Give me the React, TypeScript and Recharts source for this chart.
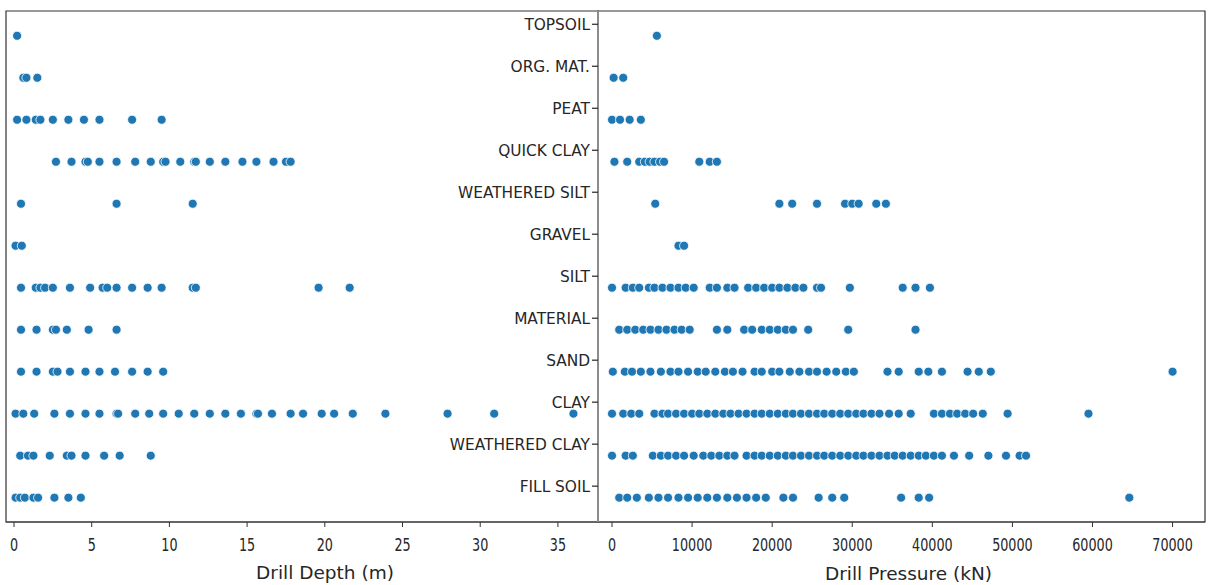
import { ScatterChart, Scatter, XAxis, YAxis, ZAxis, ReferenceArea, Label } from "recharts";

// soil categories, top to bottom
const categories = [
  'TOPSOIL', 'ORG. MAT.', 'PEAT', 'QUICK CLAY', 'WEATHERED SILT', 'GRAVEL',
  'SILT', 'MATERIAL', 'SAND', 'CLAY', 'WEATHERED CLAY', 'FILL SOIL'
];

// drill depth (m) per category
const topsoilDepth = [0.2];
const orgMatDepth = [0.6, 0.8, 1.5];
const peatDepth = [0.2, 0.8, 1.4, 1.7, 2.5, 3.5, 4.5, 5.5, 7.6, 9.5];
const quickClayDepth = [2.7, 3.7, 4.6, 4.75, 5.5, 6.6, 7.8, 8.8, 9.6, 9.75, 10.7, 11.6, 11.7, 12.6, 13.6, 14.7, 15.6, 16.7, 17.5, 17.8];
const weatheredSiltDepth = [0.45, 6.6, 11.5];
const gravelDepth = [0.1, 0.5];
const siltDepth = [0.45, 1.4, 1.7, 2.0, 2.5, 3.6, 4.9, 5.7, 6.0, 6.6, 7.6, 8.6, 9.5, 11.5, 11.7, 19.6, 21.6];
const materialDepth = [0.45, 1.45, 2.5, 2.7, 3.4, 4.8, 6.6];
const sandDepth = [0.45, 1.45, 2.5, 2.8, 3.6, 4.6, 5.5, 6.5, 7.6, 8.6, 9.6];
const clayDepth = [0.1, 0.6, 1.3, 2.6, 3.6, 4.6, 5.5, 6.6, 6.7, 7.8, 8.7, 9.6, 10.6, 11.6, 12.6, 13.6, 14.6, 15.6, 15.7, 16.6, 17.8, 18.6, 19.8, 20.6, 21.8, 23.9, 27.9, 30.9, 36.0];
const weatheredClayDepth = [0.4, 0.9, 1.25, 2.3, 3.4, 3.7, 4.6, 5.8, 6.8, 8.8];
const fillSoilDepth = [0.1, 0.4, 0.7, 1.25, 1.55, 2.6, 3.5, 4.3];

// drill pressure (kN) per category
const topsoilPressure = [5600];
const orgMatPressure = [200, 1400];
const peatPressure = [0, 1000, 2200, 3600];
const quickClayPressure = [300, 1900, 3400, 4100, 4700, 5300, 6000, 6500, 10900, 12200, 13100];
const weatheredSiltPressure = [5400, 20900, 22500, 25600, 29100, 30000, 30800, 33000, 34200];
const gravelPressure = [8300, 9000];
const siltPressure = [0, 1700, 2600, 3400, 4600, 5300, 6300, 7300, 8300, 9200, 10200, 12200, 13100, 14400, 15300, 17000, 18000, 19000, 20000, 20900, 21900, 22900, 23900, 25600, 26100, 29700, 36300, 37900, 39700];
const materialPressure = [900, 1900, 2900, 3900, 4800, 5800, 6800, 7800, 8700, 9700, 13100, 14400, 16500, 17500, 18700, 19700, 20700, 21700, 22600, 24500, 29500, 37900];
const sandPressure = [100, 1600, 2500, 3600, 4800, 6100, 7300, 8300, 9500, 10700, 11700, 12900, 14100, 15100, 16300, 17800, 18700, 20000, 20900, 22200, 23400, 24600, 25600, 26800, 28000, 29200, 30200, 34400, 35800, 38300, 39500, 41200, 44400, 45800, 47300, 70000];
const clayPressure = [0, 1400, 2400, 3400, 5300, 6300, 7000, 8000, 9000, 10000, 10900, 11900, 12900, 13900, 14800, 15800, 16800, 17800, 18700, 19700, 20700, 21700, 22600, 23600, 24600, 25600, 26500, 27500, 28500, 29500, 30500, 31400, 32400, 33400, 34600, 35800, 37300, 40200, 41200, 42200, 43100, 44100, 45100, 46300, 49400, 59500];
const weatheredClayPressure = [0, 1700, 2600, 5100, 6100, 7000, 8000, 9000, 10200, 11400, 12400, 13400, 14400, 15300, 16800, 17800, 18700, 19700, 20700, 21700, 22600, 23600, 24600, 25600, 26500, 27500, 28500, 29500, 30500, 31400, 32400, 33400, 34400, 35300, 36300, 37300, 38300, 39200, 40200, 41200, 42700, 44600, 47000, 49200, 50900, 51700];
const fillSoilPressure = [900, 1900, 3100, 4600, 5800, 7000, 8300, 9500, 10700, 11900, 13100, 14400, 15600, 16800, 18000, 19200, 21400, 22600, 25800, 27500, 29000, 36100, 38300, 39600, 64600];

const depthTicks = [0, 5, 10, 15, 20, 25, 30, 35];
const pressureTicks = [0, 10000, 20000, 30000, 40000, 50000, 60000, 70000];

const depthByCategory = [topsoilDepth, orgMatDepth, peatDepth, quickClayDepth, weatheredSiltDepth, gravelDepth, siltDepth, materialDepth, sandDepth, clayDepth, weatheredClayDepth, fillSoilDepth];
const pressureByCategory = [topsoilPressure, orgMatPressure, peatPressure, quickClayPressure, weatheredSiltPressure, gravelPressure, siltPressure, materialPressure, sandPressure, clayPressure, weatheredClayPressure, fillSoilPressure];

const depthData = depthByCategory.flatMap((vals, i) => vals.map((v) => ({ x: v, y: i })));
const pressureData = pressureByCategory.flatMap((vals, i) => vals.map((v) => ({ x: v, y: i })));

const Y_DOMAIN = [-0.59, 11.58];
const DEPTH_DOMAIN = [-0.515, 37.58];
const PRESSURE_DOMAIN = [-1750, 74050];

const FONT = '"DejaVu Sans", sans-serif';
const TEXT = '#262626';
const DOT = '#1f77b4';

function NumberTick({ x, y, payload }: any) {
  return (
    <text
      transform={`translate(${x},${y}) scale(0.75,1)`}
      textAnchor="middle"
      dy={22}
      fontSize={17}
      fontFamily={FONT}
      fill={TEXT}
    >
      {payload.value}
    </text>
  );
}

// category labels sit a bit above their row of dots, like the original
function CategoryTick({ x, y, payload }: any) {
  const ty = y - 11.5;
  return (
    <g>
      <line x1={x + 2} y1={ty} x2={x + 8} y2={ty} stroke={TEXT} strokeWidth={1.2} />
      <text
        transform={`translate(${x},${ty}) scale(0.96,1)`}
        textAnchor="end"
        dy="0.36em"
        fontSize={16}
        fontFamily={FONT}
        fill={TEXT}
      >
        {categories[payload.value]}
      </text>
    </g>
  );
}

export default function App() {
  return (
    <div style={{ position: 'absolute', left: 0, top: 0, width: 1210, height: 585, background: '#fff' }}>
      <div style={{ position: 'absolute', left: 0, top: 0 }}>
        <ScatterChart width={600} height={585} margin={{ top: 11, right: 2, bottom: 23, left: 6 }}>
          <XAxis
            type="number"
            dataKey="x"
            domain={DEPTH_DOMAIN}
            ticks={depthTicks}
            allowDataOverflow
            height={40}
            axisLine={{ stroke: '#333' }}
            tickLine={{ stroke: '#333' }}
            tickSize={5}
            tickMargin={2}
            tick={<NumberTick />}
            interval={0}
          >
            <Label value="Drill Depth (m)" position="bottom" offset={4} dx={23} fontSize={18.5} fontFamily={FONT} fill={TEXT} />
          </XAxis>
          <YAxis type="number" dataKey="y" domain={Y_DOMAIN} reversed hide allowDataOverflow />
          <ZAxis range={[56, 56]} />
          <ReferenceArea
            x1={DEPTH_DOMAIN[0]}
            x2={DEPTH_DOMAIN[1]}
            y1={Y_DOMAIN[0]}
            y2={Y_DOMAIN[1]}
            fill="none"
            stroke="#333"
            strokeWidth={1.2}
            ifOverflow="visible"
          />
          <Scatter data={depthData} fill={DOT} stroke="#fff" strokeWidth={0.8} isAnimationActive={false} />
        </ScatterChart>
      </div>
      <div style={{ position: 'absolute', left: 398, top: 0 }}>
        <ScatterChart width={812} height={585} margin={{ top: 11, right: 5, bottom: 23, left: 0 }}>
          <XAxis
            type="number"
            dataKey="x"
            domain={PRESSURE_DOMAIN}
            ticks={pressureTicks}
            allowDataOverflow
            height={40}
            axisLine={{ stroke: '#333' }}
            tickLine={{ stroke: '#333' }}
            tickSize={5}
            tickMargin={2}
            tick={<NumberTick />}
            interval={0}
          >
            <Label value="Drill Pressure (kN)" position="bottom" offset={5} dx={7} fontSize={18.5} fontFamily={FONT} fill={TEXT} />
          </XAxis>
          <ReferenceArea
            x1={PRESSURE_DOMAIN[0]}
            x2={PRESSURE_DOMAIN[1]}
            y1={Y_DOMAIN[0]}
            y2={Y_DOMAIN[1]}
            fill="none"
            stroke="#333"
            strokeWidth={1.2}
            ifOverflow="visible"
          />
          <YAxis
            type="number"
            dataKey="y"
            domain={Y_DOMAIN}
            reversed
            allowDataOverflow
            ticks={[0, 1, 2, 3, 4, 5, 6, 7, 8, 9, 10, 11]}
            interval={0}
            width={200}
            axisLine={{ stroke: '#8c8c8c', strokeWidth: 2 }}
            tickLine={false}
            tickSize={6}
            tickMargin={2}
            tick={<CategoryTick />}
          />
          <ZAxis range={[56, 56]} />
          <Scatter data={pressureData} fill={DOT} stroke="#fff" strokeWidth={0.8} isAnimationActive={false} />
        </ScatterChart>
      </div>
    </div>
  );
}
